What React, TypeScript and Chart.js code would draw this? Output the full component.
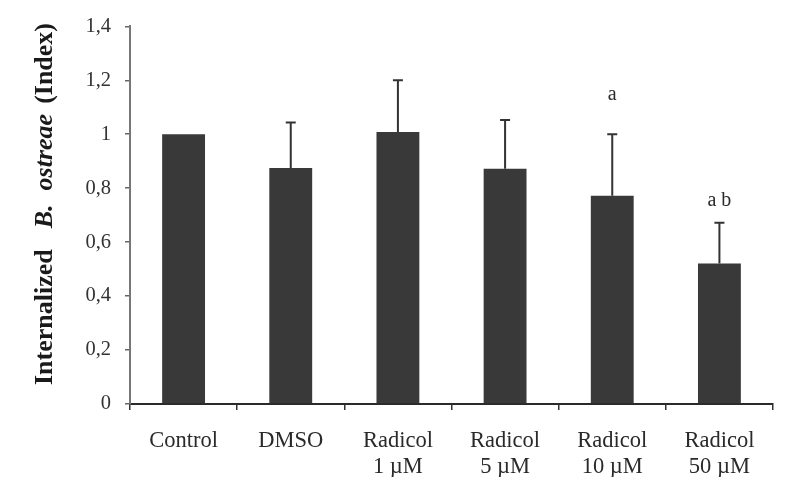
import React, { useEffect, useRef } from "react";
import { Chart, registerables } from "chart.js";

Chart.register(...registerables);

const categories: string[][] = [
  ["Control"],
  ["DMSO"],
  ["Radicol", "1 µM"],
  ["Radicol", "5 µM"],
  ["Radicol", "10 µM"],
  ["Radicol", "50 µM"],
];
const means = [1.0, 0.875, 1.008, 0.872, 0.772, 0.521];
const sdUpper = [0, 0.168, 0.192, 0.181, 0.228, 0.151];
const sigLabels = ["", "", "", "", "a", "a b"];
const sigValues = [0, 0, 0, 0, 1.145, 0.752];
const yMin = 0;
const yMax = 1.4;
const yStep = 0.2;

const SERIF = "'Liberation Serif', 'Times New Roman', serif";

const errorBarPlugin = {
  id: "errorBars",
  afterDatasetsDraw(chart: any) {
    const ctx = chart.ctx;
    const meta = chart.getDatasetMeta(0);
    const y = chart.scales.y;
    ctx.save();
    ctx.strokeStyle = "#333";
    ctx.lineWidth = 2;
    meta.data.forEach((bar: any, i: number) => {
      if (sdUpper[i] > 0) {
        const base = y.getPixelForValue(means[i]);
        const top = y.getPixelForValue(means[i] + sdUpper[i]);
        ctx.beginPath();
        ctx.moveTo(bar.x, base);
        ctx.lineTo(bar.x, top);
        ctx.moveTo(bar.x - 5, top);
        ctx.lineTo(bar.x + 5, top);
        ctx.stroke();
      }
      if (sigLabels[i]) {
        ctx.fillStyle = "#2a2a2a";
        ctx.font = `20px ${SERIF}`;
        ctx.textAlign = "center";
        ctx.textBaseline = "middle";
        ctx.fillText(sigLabels[i], bar.x, y.getPixelForValue(sigValues[i]));
      }
    });
    ctx.restore();
  },
};

const yTitlePlugin = {
  id: "yTitle",
  afterDraw(chart: any) {
    const ctx = chart.ctx;
    const segs = [
      { t: "Internalized", f: `bold 26px ${SERIF}`, gap: 21 },
      { t: "B.", f: `italic bold 26px ${SERIF}`, gap: 14 },
      { t: "ostreae", f: `italic bold 26px ${SERIF}`, gap: 10 },
      { t: "(Index)", f: `bold 26px ${SERIF}`, gap: 0 },
    ];
    ctx.save();
    let total = 0;
    const widths = segs.map((s) => {
      ctx.font = s.f;
      const w = ctx.measureText(s.t).width;
      total += w + s.gap;
      return w;
    });
    const cx = 45;
    const cy = 204;
    ctx.translate(cx, cy);
    ctx.rotate(-Math.PI / 2);
    ctx.fillStyle = "#1a1a1a";
    ctx.textBaseline = "middle";
    ctx.textAlign = "left";
    let x = -total / 2;
    segs.forEach((s, i) => {
      ctx.font = s.f;
      ctx.fillText(s.t, x, 0);
      x += widths[i] + s.gap;
    });
    ctx.restore();
  },
};

export default function App() {
  const ref = useRef<HTMLCanvasElement | null>(null);
  useEffect(() => {
    if (!ref.current) return;
    const chart = new Chart(ref.current, {
      type: "bar",
      data: {
        labels: categories,
        datasets: [
          {
            data: means,
            backgroundColor: "#393939",
            borderWidth: 0,
            barPercentage: 0.8,
            categoryPercentage: 0.5,
          },
        ],
      },
      options: {
        animation: false,
        responsive: false,
        devicePixelRatio: 1,
        layout: { padding: { left: 0, right: 17, top: 22, bottom: 0 } },
        plugins: {
          legend: { display: false },
          tooltip: { enabled: false },
          title: { display: false },
        },
        scales: {
          x: {
            grid: {
              display: true,
              drawOnChartArea: false,
              drawTicks: true,
              tickLength: 6,
              color: "#333",
              lineWidth: 1.5,
              offset: true,
            },
            border: { display: true, color: "#2a2a2a", width: 2 },
            ticks: {
              color: "#2a2a2a",
              padding: 18,
              maxRotation: 0,
              autoSkip: false,
              font: { family: SERIF, size: 22.5, lineHeight: 1.17 },
            },
            afterFit(scale: any) {
              scale.height = 73;
            },
          },
          y: {
            min: yMin,
            max: yMax,
            grid: {
              display: true,
              drawOnChartArea: false,
              drawTicks: true,
              tickLength: 5,
              color: "#666",
              lineWidth: 1.5,
            },
            border: { display: true, color: "#777", width: 2 },
            ticks: {
              stepSize: yStep,
              color: "#333",
              padding: 14,
              font: { family: SERIF, size: 20.5 },
              callback: (v: any) => String(Number(Number(v).toFixed(1))).replace(".", ","),
            },
            afterFit(scale: any) {
              scale.width = 130;
            },
          },
        },
      },
      plugins: [errorBarPlugin, yTitlePlugin],
    });
    return () => chart.destroy();
  }, []);
  return (
    <div style={{ position: "absolute", left: 0, top: 0, width: 790, height: 477, background: "#fff" }}>
      <canvas ref={ref} width={790} height={477} />
    </div>
  );
}
